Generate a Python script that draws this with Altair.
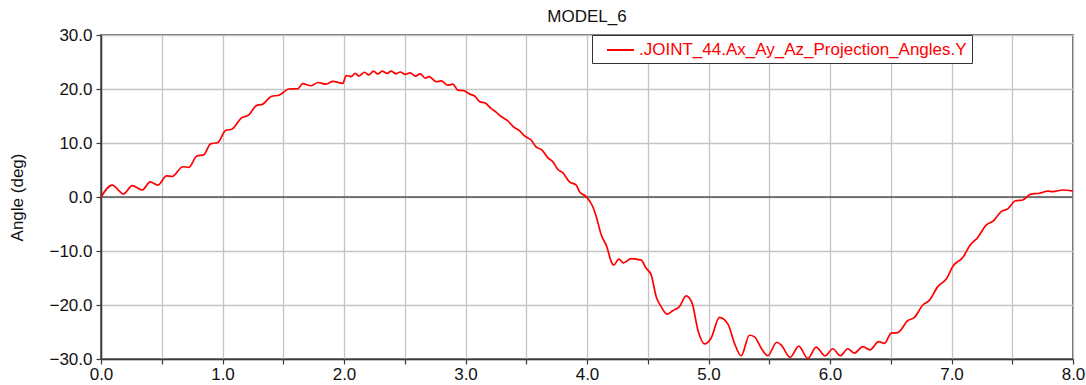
import altair as alt
import pandas as pd

time_s = [0.0, 0.092, 0.185, 0.257, 0.339, 0.405, 0.468, 0.54, 0.586, 0.673, 0.723, 0.789, 0.846, 0.90, 0.961,
          1.025, 1.08, 1.154, 1.217, 1.277, 1.332, 1.40, 1.469, 1.546, 1.62, 1.66, 1.73, 1.785, 1.853, 1.908, 1.99,
          2.018, 2.059, 2.092, 2.122, 2.169, 2.204, 2.243, 2.278, 2.314, 2.355, 2.388, 2.43, 2.462, 2.506, 2.545,
          2.588, 2.627, 2.67, 2.70, 2.759, 2.80, 2.854, 2.896, 2.937, 2.984, 3.04, 3.075, 3.115, 3.165, 3.21, 3.247,
          3.294, 3.348, 3.395, 3.444, 3.486, 3.54, 3.58, 3.63, 3.677, 3.718, 3.76, 3.80, 3.856, 3.911, 3.938, 3.994,
          4.048, 4.076, 4.117, 4.163, 4.20, 4.22, 4.262, 4.30, 4.364, 4.446, 4.487, 4.528, 4.57, 4.61, 4.66, 4.706,
          4.761, 4.816, 4.866, 4.912, 4.967, 5.02, 5.09, 5.159, 5.214, 5.269, 5.337, 5.379, 5.434, 5.488, 5.562,
          5.598, 5.672, 5.743, 5.817, 5.886, 5.96, 6.023, 6.086, 6.146, 6.2, 6.27, 6.33, 6.40, 6.449, 6.504, 6.558,
          6.64, 6.695, 6.764, 6.819, 6.887, 6.956, 7.016, 7.093, 7.154, 7.216, 7.285, 7.346, 7.409, 7.463, 7.527,
          7.587, 7.648, 7.724, 7.793, 7.834, 7.916, 8.0]
angle_deg = [0.0, 2.2, 0.55, 2.1, 1.3, 2.8, 2.2, 3.9, 3.8, 5.6, 5.5, 7.6, 7.8, 9.8, 10.1,
             12.3, 12.6, 14.6, 15.2, 16.9, 17.2, 18.6, 18.9, 20.0, 20.05, 21.0, 20.6, 21.2, 20.9, 21.4, 21.05,
             22.5, 22.3, 22.9, 22.4, 23.1, 22.6, 23.3, 22.8, 23.3, 22.9, 23.3, 22.8, 23.15, 22.7, 23.0,
             22.4, 22.8, 22.0, 22.3, 21.35, 21.5, 20.7, 20.9, 19.8, 19.7, 19.0, 18.7, 17.7, 17.35, 16.4, 15.8,
             14.9, 14.1, 13.0, 12.3, 11.3, 10.55, 9.3, 8.7, 7.3, 6.55, 5.1, 4.5, 2.8, 2.2, 1.0, 0.05,
             -1.8, -3.6, -7.0, -9.2, -12.0, -12.6, -11.5, -12.2, -11.4, -11.7, -13.2, -14.4, -18.5, -20.3, -21.7, -21.05,
             -20.3, -18.3, -19.7, -24.6, -27.2, -26.2, -22.3, -23.5, -27.1, -29.4, -25.6, -25.9, -28.0, -29.4, -26.9,
             -27.4, -29.7, -27.6, -29.9, -27.8, -29.4, -28.1, -29.4, -28.1, -28.9, -27.7, -28.3, -26.8, -27.1, -25.2, -25.1,
             -22.9, -22.3, -20.0, -19.1, -16.6, -15.2, -12.7, -11.2, -8.9, -7.5, -5.2, -4.4, -2.7, -2.2, -0.7,
             -0.55, 0.5, 0.7, 1.1, 1.0, 1.3, 1.1]

series_name = ".JOINT_44.Ax_Ay_Az_Projection_Angles.Y"
chart_title = "MODEL_6"
y_title = "Angle (deg)"
x_ticks = [i * 0.5 for i in range(17)]
y_ticks = [-30 + 5 * i for i in range(13)]
zero_line = [0.0]

FONT = "Liberation Sans"
df = pd.DataFrame({"t": time_s, "a": angle_deg, "s": [series_name] * len(time_s)})

x_scale = alt.Scale(domain=[0, 8], nice=False, zero=False)
y_scale = alt.Scale(domain=[-30, 30], nice=False, zero=False)

line = alt.Chart(df).mark_line(strokeWidth=1.7, clip=True, interpolate="monotone").encode(
    x=alt.X("t:Q", scale=x_scale, title=None,
            axis=alt.Axis(values=x_ticks, labelExpr="datum.value % 1 == 0 ? format(datum.value, '.1f') : ''",
                          grid=True, tickSize=5, labelPadding=2, labelFlush=False)),
    y=alt.Y("a:Q", scale=y_scale, title=y_title,
            axis=alt.Axis(values=y_ticks, labelExpr="datum.value % 10 == 0 ? format(datum.value, '.1f') : ''",
                          grid=True, tickSize=5, labelPadding=4, titleX=-84, titleY=162,
                          titleAlign="center", titleBaseline="middle", titleAngle=270)),
    color=alt.Color("s:N", scale=alt.Scale(range=["#ff0000"]),
                    legend=alt.Legend(title=None, orient="none", legendX=491, legendY=0,
                                      symbolType="M-1.5,0L1.5,0", symbolSize=324, symbolStrokeWidth=2,
                                      labelColor="#ff0000", labelFontSize=17, labelFont=FONT,
                                      padding=5, symbolOffset=13.5, labelOffset=8.5,
                                      strokeColor="#333333", fillColor="#ffffff", cornerRadius=0,
                                      labelLimit=500)),
)

zero = alt.Chart(pd.DataFrame({"z": zero_line})).mark_rule(color="#555555", strokeWidth=1.5).encode(
    y=alt.Y("z:Q", scale=y_scale)
)

chart = alt.layer(zero, line).properties(
    width=972, height=324,
    title=alt.TitleParams(chart_title, font=FONT, fontSize=17, fontWeight="normal", color="#111111",
                          anchor="middle", offset=0),
    autosize=alt.AutoSizeParams(type="none"),
    padding={"left": 101, "top": 35, "right": 13, "bottom": 26},
    background="white",
).configure_axis(
    labelFont=FONT, labelFontSize=17, labelColor="#111111",
    titleFont=FONT, titleFontSize=17, titleColor="#111111", titleFontWeight="normal",
    gridColor="#c4c4c4", gridWidth=1.3, gridOpacity=1,
    domainColor="#3a3a3a", domainWidth=1.5, tickColor="#3a3a3a", tickWidth=1.2,
).configure_view(stroke="#3a3a3a", strokeWidth=1.5)

chart.save("out.html", embed_options={"renderer": "svg", "actions": False})
